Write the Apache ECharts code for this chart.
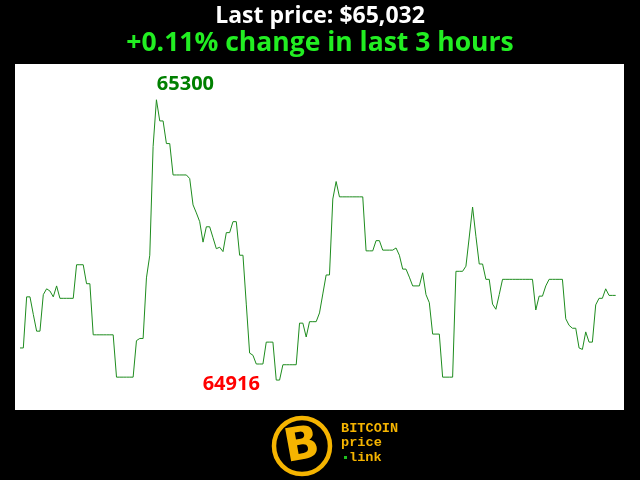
<!DOCTYPE html>
<html>
<head>
<meta charset="utf-8">
<script src="https://cdn.jsdelivr.net/npm/echarts@6/dist/echarts.min.js"></script>
<style>html,body{margin:0;padding:0;background:#000;}#c{width:640px;height:480px;}</style>
</head>
<body>
<div id="c"></div>
<script>
var titleLine1 = 'Last price: $65,032';
var titleLine2 = '+0.11% change in last 3 hours';
var prices = [
  64960, 64960, 65030, 65030, 65006, 64983, 64983, 65033, 65041, 65038,
  65030, 65045, 65028, 65028, 65028, 65028, 65028, 65074, 65074, 65074,
  65048, 65048, 64978, 64978, 64978, 64978, 64978, 64978, 64978, 64920,
  64920, 64920, 64920, 64920, 64920, 64970, 64973, 64973, 65056, 65087,
  65236, 65300, 65271, 65271, 65240, 65240, 65197, 65197, 65197, 65197,
  65197, 65192, 65156, 65145, 65133, 65105, 65126, 65126, 65111, 65096,
  65098, 65092, 65118, 65118, 65133, 65133, 65087, 65087, 65020, 64953,
  64950, 64938, 64938, 64938, 64968, 64968, 64968, 64916, 64916, 64937,
  64937, 64937, 64937, 64937, 64994, 64994, 64975, 64996, 64996, 64996,
  65008, 65034, 65060, 65060, 65164, 65188, 65167, 65167, 65167, 65167,
  65167, 65167, 65167, 65167, 65093, 65093, 65093, 65107, 65107, 65094,
  65094, 65094, 65094, 65097, 65087, 65068, 65068, 65057, 65045, 65045,
  65045, 65063, 65033, 65022, 64979, 64979, 64979, 64920, 64920, 64920,
  64920, 65065, 65065, 65065, 65072, 65112, 65153, 65113, 65075, 65075,
  65054, 65054, 65020, 65013, 65033, 65054, 65054, 65054, 65054, 65054,
  65054, 65054, 65054, 65054, 65054, 65012, 65031, 65031, 65045, 65054,
  65054, 65054, 65054, 65054, 65000, 64991, 64987, 64987, 64960, 64958,
  64982, 64968, 64968, 65019, 65028, 65028, 65041, 65032, 65032, 65032
];
var seriesData = prices.map(function (p, i) { return [i, p]; });

var chart = echarts.init(document.getElementById('c'), null, {renderer: 'canvas'});
var gold = '#f5b400';
chart.setOption({
  backgroundColor: '#000',
  animation: false,
  grid: {left: 15, right: 16, top: 64, bottom: 70, show: true, backgroundColor: '#fff', borderWidth: 0},
  xAxis: {type: 'value', min: -1.5, max: 181.5, show: false},
  yAxis: {type: 'value', min: 64875, max: 65349, show: false},
  series: [{
    type: 'line',
    data: seriesData,
    showSymbol: false,
    lineStyle: {color: '#1e8c1e', width: 1},
    markPoint: {
      symbol: 'circle',
      symbolSize: 0,
      data: [
        {type: 'max', label: {show: true, formatter: '{c}', color: '#008000', fontSize: 20, fontWeight: 'bold', fontFamily: 'Open Sans', offset: [29, -15]}},
        {type: 'min', label: {show: true, formatter: '{c}', color: '#ff0000', fontSize: 20, fontWeight: 'bold', fontFamily: 'Open Sans', offset: [-45, 4]}}
      ]
    }
  }],
  graphic: [
    {type: 'text', left: 'center', top: 5, style: {text: titleLine1, fill: '#fff', font: 'bold 23px "Open Sans"'}},
    {type: 'text', left: 'center', top: 30, style: {text: titleLine2, fill: '#22ee22', font: 'bold 26.5px "Open Sans"'}},
    {type: 'circle', shape: {cx: 302, cy: 446, r: 28}, style: {fill: '#000', stroke: gold, lineWidth: 4.5}},
    {type: 'text', x: 302, y: 447, rotation: 0.18, style: {text: 'B', fill: gold, font: 'bold 46px "DejaVu Sans"', align: 'center', verticalAlign: 'middle'}},
    {type: 'text', x: 341, y: 429, style: {text: 'BITCOIN', fill: gold, font: 'bold 13.6px "Liberation Mono"', verticalAlign: 'middle'}},
    {type: 'text', x: 341, y: 443, style: {text: 'price', fill: gold, font: 'bold 13.6px "Liberation Mono"', verticalAlign: 'middle'}},
    {type: 'rect', shape: {x: 344, y: 456, width: 3, height: 3}, style: {fill: '#1fbf1f'}},
    {type: 'text', x: 349, y: 458, style: {text: 'link', fill: gold, font: 'bold 13.6px "Liberation Mono"', verticalAlign: 'middle'}}
  ]
});
</script>
</body>
</html>
